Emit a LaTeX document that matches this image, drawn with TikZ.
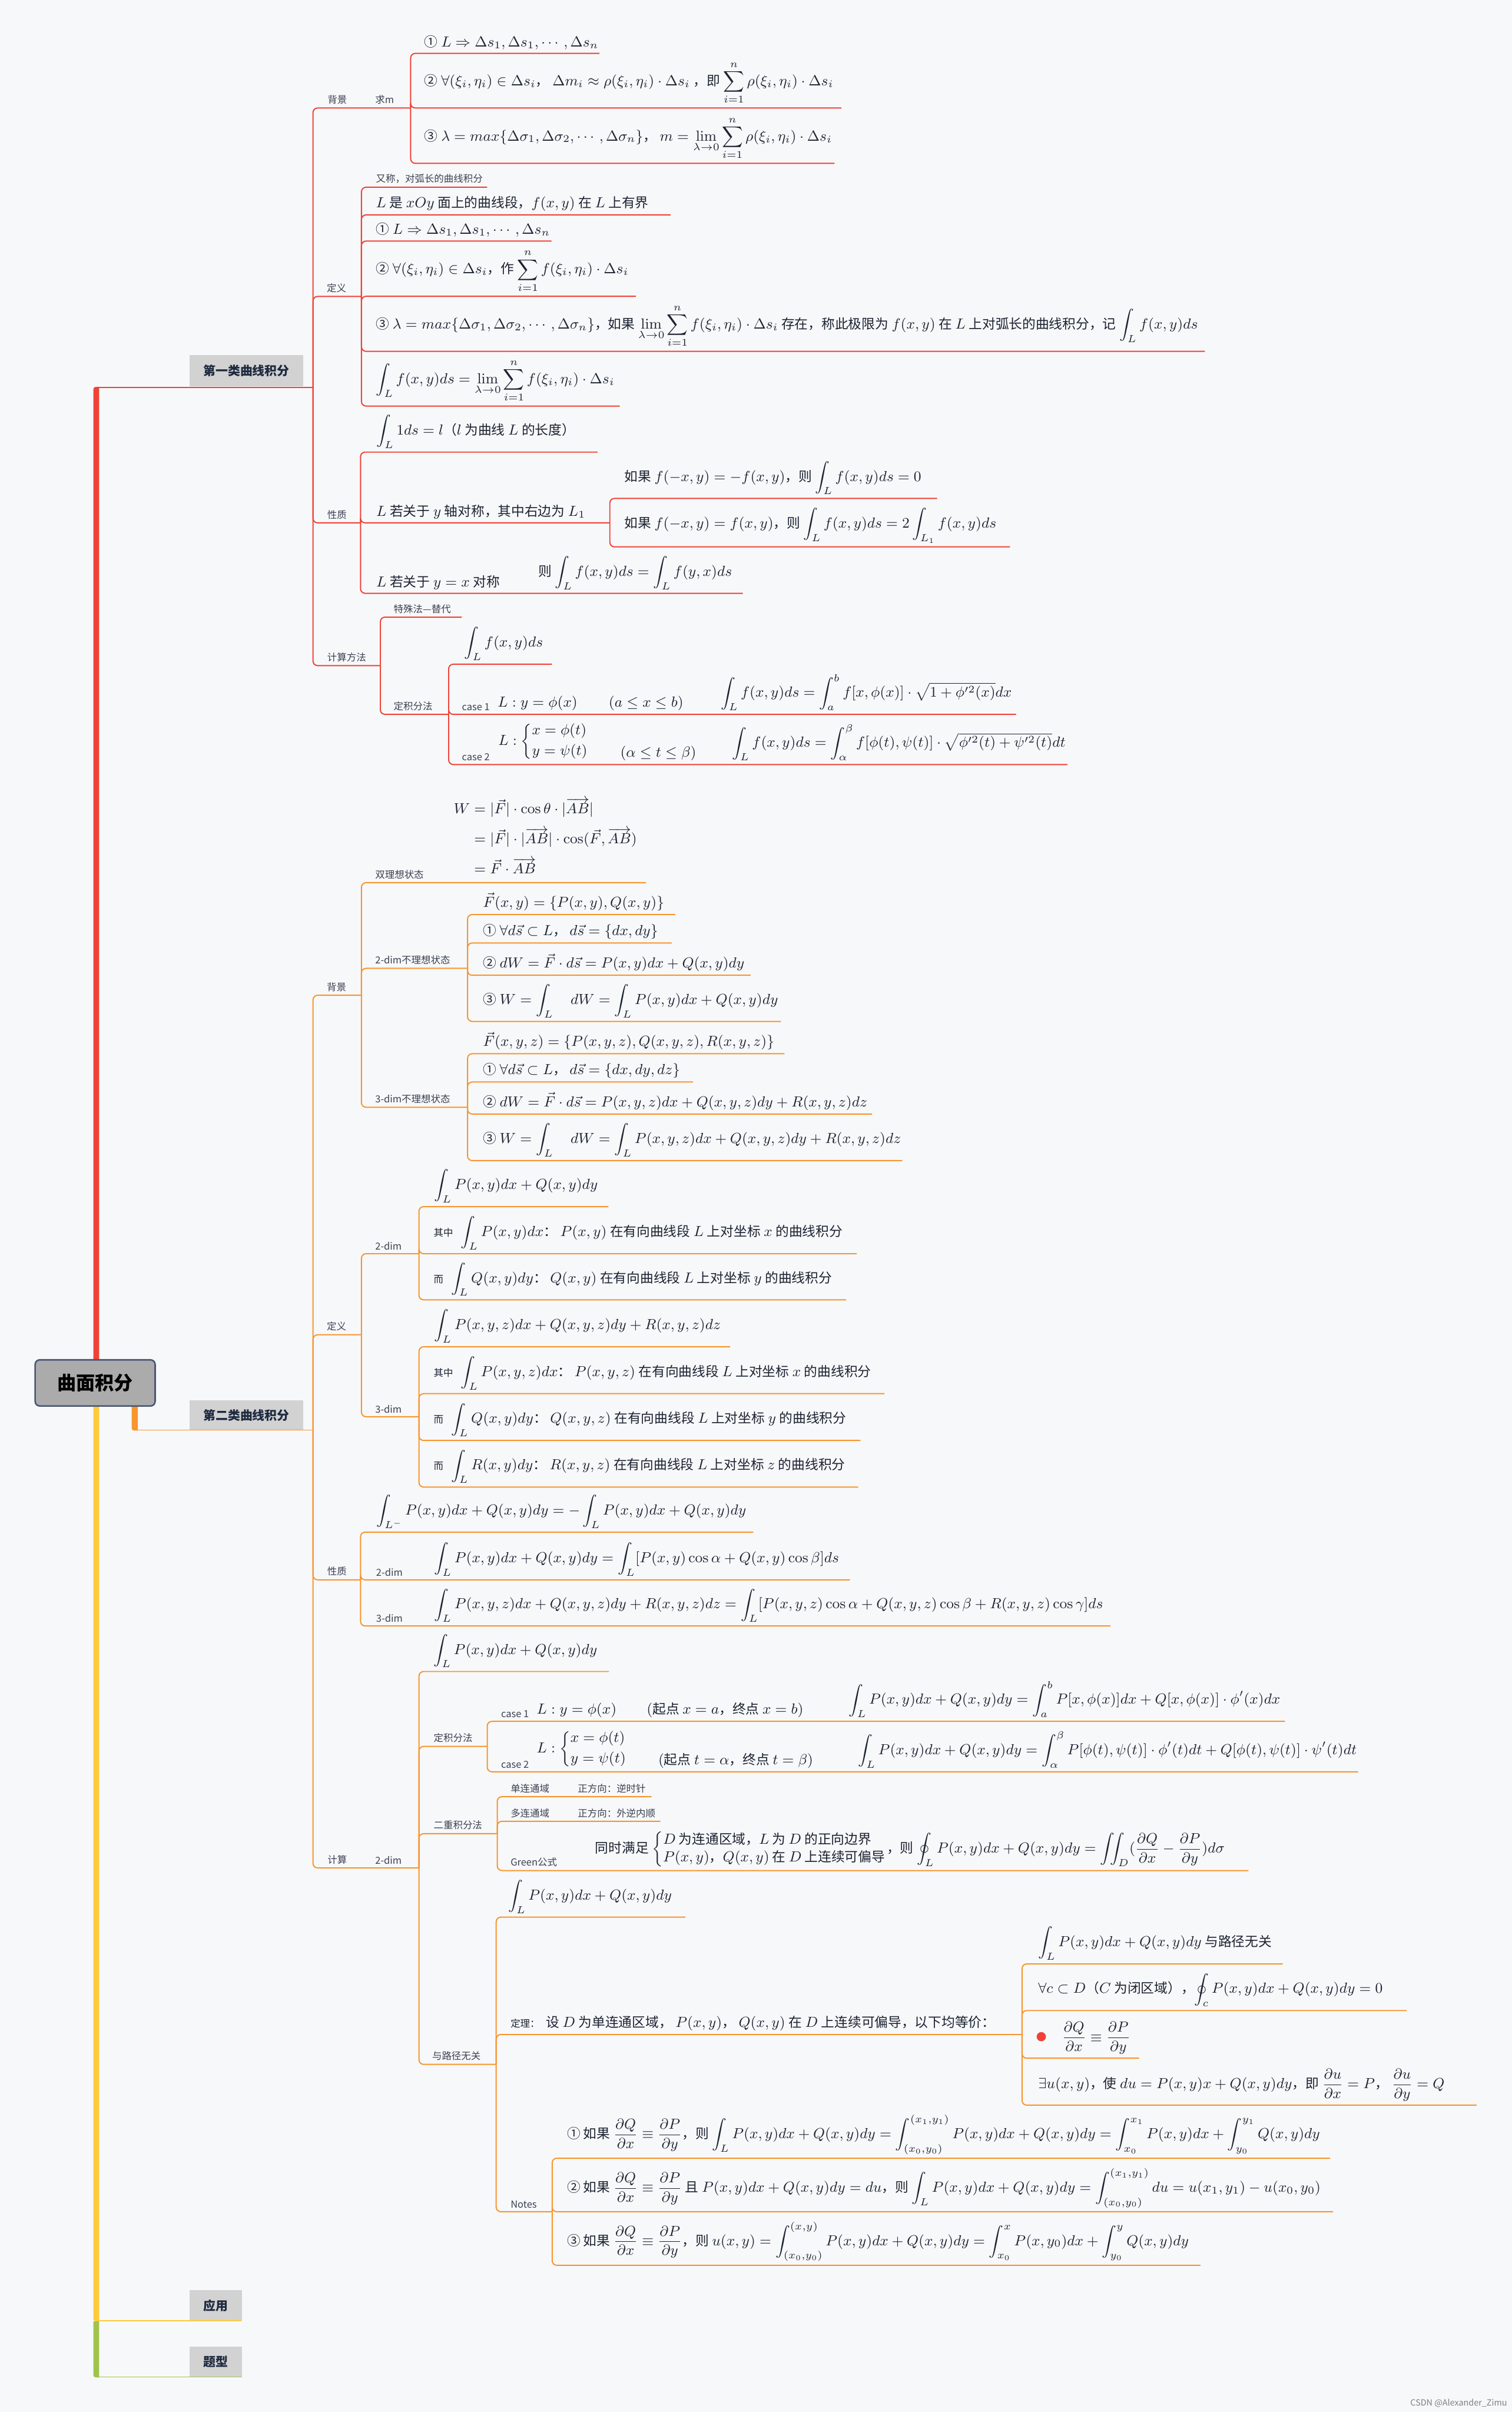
\RequirePackage{fix-cm}
\documentclass[tikz,border=0pt]{standalone}
\usepackage{amsmath,amssymb}
\usepackage[no-math]{fontspec}
\setmainfont{Noto Sans CJK SC}
\definecolor{bg}{HTML}{F7F8FA}
\definecolor{cr}{HTML}{F04237}
\definecolor{co}{HTML}{F7952E}
\definecolor{cy}{HTML}{FFCA3A}
\definecolor{cg}{HTML}{A0C34B}
\definecolor{ink}{HTML}{1C2331}
\definecolor{inkc}{HTML}{3B4150}
\definecolor{lbl}{HTML}{D2D2D2}
\definecolor{hubtxt}{HTML}{1E2A40}
\definecolor{rootf}{HTML}{ABABAB}
\definecolor{rootd}{HTML}{4A5775}
\newcommand\ZC[1]{{\fontsize{8.7}{10}\selectfont #1}}
\newcommand\ZS[1]{{\fontsize{6.3}{7.5}\selectfont #1}}
\newcommand\Nd[5][tx]{\node[#1] (#2) at (#3,#4-2.5) {#5};}
\begin{document}
\begin{tikzpicture}[x=1pt,y=-1pt,
  tx/.style={anchor=south west,inner sep=0pt,outer sep=0pt,text=ink,font=\fontsize{9.5}{11.4}\selectfont},
  sm/.style={tx,text=inkc,font=\fontsize{6.3}{7.5}\selectfont},
  hub/.style={anchor=south west,fill=lbl,inner sep=0pt,text=hubtxt,font=\fontsize{8}{9}\selectfont\bfseries},
  rl/.style={cr,line width=0.75pt,rounded corners=3pt},
  ol/.style={co,line width=0.75pt,rounded corners=3pt}]
\useasboundingbox (0,0) rectangle (983,1568);
\fill[bg] (0,0) rectangle (983,1568);

% ---------- trunk ----------
\fill[cr] (60.7,890) -- (60.7,255) .. controls (60.7,251.5) .. (64.2,251.5) -- (64.5,251.5) -- (64.5,890) -- cycle;
\fill[co] (85.6,905) -- (85.6,926.5) .. controls (85.6,930) .. (89.1,930) -- (89.6,930) -- (89.6,905) -- cycle;
\fill[cy] (60.7,905) -- (60.7,1505.5) .. controls (60.7,1509) .. (64.2,1509) -- (64.5,1509) -- (64.5,905) -- cycle;
\fill[cg] (60.7,1509) -- (60.7,1542) .. controls (60.7,1545.5) .. (64.2,1545.5) -- (64.5,1545.5) -- (64.5,1509) -- cycle;

\node[hub,minimum width=74pt,minimum height=20.5pt] (h1) at (123,251.5) {第一类曲线积分};
\node[hub,minimum width=74pt,minimum height=19.5pt] (h2) at (123,930) {第二类曲线积分};
\node[hub,minimum width=34pt,minimum height=20pt] (h3) at (123,1509) {应用};
\node[hub,minimum width=34pt,minimum height=20pt] (h4) at (123,1545.5) {题型};

\coordinate (A) at (64,251.8);  \coordinate (Aj) at (203.5,251.8);
\coordinate (B) at (89,929.7);  \coordinate (Bj) at (203.5,929.7);
\coordinate (C) at (64,1508.7); \coordinate (Cj) at (157,1508.7);
\coordinate (D) at (64,1545.2); \coordinate (Dj) at (157,1545.2);
\draw[cr,line width=0.6pt] (A) -- (Aj);
\draw[co,line width=0.6pt] (B) -- (Bj);
\draw[cy,line width=0.6pt] (C) -- (Cj);
\draw[cg,line width=0.6pt] (D) -- (Dj);

\node[draw=rootd,line width=1pt,fill=rootf,rounded corners=3pt,minimum width=78pt,minimum height=30pt,inner sep=0pt,text=black,font=\fontsize{12.3}{14}\selectfont\bfseries] (root) at (61.85,899) {曲面积分};

% ---------- section 1 coordinates ----------
\coordinate (a1) at (267,70.2);
\coordinate (a2) at (235,192.7);
\coordinate (a3) at (234.4,339.9);
\coordinate (a4) at (247.3,432.7);
\coordinate (a11) at (389.7,34.7);
\coordinate (a12) at (547,70.2);
\coordinate (a13) at (542.6,106.2);
\coordinate (a21) at (316.7,121.7);
\coordinate (a22) at (436,139.7);
\coordinate (a23) at (358.5,156.7);
\coordinate (a24) at (413.4,192.6);
\coordinate (a25) at (783.4,228.4);
\coordinate (a26) at (403,264);
\coordinate (a31) at (388.6,293.9);
\coordinate (a32) at (396.5,339.9);
\coordinate (a33) at (483,385.7);
\coordinate (a321) at (609.3,324);
\coordinate (a322) at (656.7,355.5);
\coordinate (a41) at (300.3,401.2);
\coordinate (a42) at (291.7,464.4);
\coordinate (a421) at (358.8,431.8);
\coordinate (a422) at (660.6,464.4);
\coordinate (a423) at (694,497);

\foreach \c in {a1,a2,a3,a4} \draw[rl] (Aj) |- (\c);
\foreach \c in {a11,a12,a13} \draw[rl] (a1) |- (\c);
\foreach \c in {a21,a22,a23,a24,a25,a26} \draw[rl] (a2) |- (\c);
\foreach \c in {a31,a32,a33} \draw[rl] (a3) |- (\c);
\foreach \c in {a321,a322} \draw[rl] (a32) |- (\c);
\foreach \c in {a41,a42} \draw[rl] (a4) |- (\c);
\foreach \c in {a421,a422,a423} \draw[rl] (a42) |- (\c);

% ---------- section 1 text ----------
\Nd[sm]{ta1}{213}{70.2}{背景}
\Nd[sm]{ta1m}{244}{70.2}{求m}
\Nd{ta11}{276}{34.7}{\ZC{①} $L\Rightarrow\Delta s_1,\Delta s_1,\cdots,\Delta s_n$}
\Nd{ta12}{276}{70.2}{\ZC{②} $\forall(\xi_i,\eta_i)\in\Delta s_i$\ZC{，} $\Delta m_i\approx\rho(\xi_i,\eta_i)\cdot\Delta s_i$ \ZC{，即} $\displaystyle\sum_{i=1}^{n}\rho(\xi_i,\eta_i)\cdot\Delta s_i$}
\Nd{ta13}{276}{106.2}{\ZC{③} $\lambda=max\{\Delta\sigma_1,\Delta\sigma_2,\cdots,\Delta\sigma_n\}$\ZC{，} $\displaystyle m=\lim_{\lambda\to0}\sum_{i=1}^{n}\rho(\xi_i,\eta_i)\cdot\Delta s_i$}

\Nd[sm]{ta2}{212.5}{192.7}{定义}
\Nd[sm]{ta21}{244.5}{121.7}{又称，对弧长的曲线积分}
\Nd{ta22}{244.5}{139.7}{$L$ \ZC{是} $xOy$ \ZC{面上的曲线段，}$f(x,y)$ \ZC{在} $L$ \ZC{上有界}}
\Nd{ta23}{244.5}{156.7}{\ZC{①} $L\Rightarrow\Delta s_1,\Delta s_1,\cdots,\Delta s_n$}
\Nd{ta24}{244.5}{192.6}{\ZC{②} $\forall(\xi_i,\eta_i)\in\Delta s_i$\ZC{，作} $\displaystyle\sum_{i=1}^{n}f(\xi_i,\eta_i)\cdot\Delta s_i$}
\Nd{ta25}{244.5}{228.4}{\ZC{③} $\lambda=max\{\Delta\sigma_1,\Delta\sigma_2,\cdots,\Delta\sigma_n\}$\ZC{，如果} $\displaystyle\lim_{\lambda\to0}\sum_{i=1}^{n}f(\xi_i,\eta_i)\cdot\Delta s_i$ \ZC{存在，称此极限为} $f(x,y)$ \ZC{在} $L$ \ZC{上对弧长的曲线积分，记} $\displaystyle\int_L f(x,y)ds$}
\Nd{ta26}{244.5}{264}{$\displaystyle\int_L f(x,y)ds=\lim_{\lambda\to0}\sum_{i=1}^{n}f(\xi_i,\eta_i)\cdot\Delta s_i$}

\Nd[sm]{ta3}{212.8}{339.9}{性质}
\Nd{ta31}{244.7}{293.9}{$\displaystyle\int_L 1ds=l$\ZC{（}$l$ \ZC{为曲线} $L$ \ZC{的长度）}}
\Nd{ta32}{244.7}{339.9}{$L$ \ZC{若关于} $y$ \ZC{轴对称，其中右边为} $L_1$}
\Nd{ta321}{406}{324}{\ZC{如果} $f(-x,y)=-f(x,y)$\ZC{，则} $\displaystyle\int_L f(x,y)ds=0$}
\Nd{ta322}{406}{355.5}{\ZC{如果} $f(-x,y)=f(x,y)$\ZC{，则} $\displaystyle\int_L f(x,y)ds=2\int_{L_1}f(x,y)ds$}
\Nd{ta33}{244.7}{385.7}{$L$ \ZC{若关于} $y=x$ \ZC{对称}}
\Nd{ta33b}{350}{385.7}{\ZC{则} $\displaystyle\int_L f(x,y)ds=\int_L f(y,x)ds$}

\Nd[sm]{ta4}{212.8}{432.7}{计算方法}
\Nd[sm]{ta41}{256}{401.2}{特殊法—替代}
\Nd[sm]{ta42}{256}{464.4}{定积分法}
\Nd{ta421}{302}{431.8}{$\displaystyle\int_L f(x,y)ds$}
\Nd[sm]{ta422a}{300.4}{464.4}{case 1}
\Nd{ta422b}{323.6}{464.4}{$L:y=\phi(x)$}
\Nd{ta422c}{395.8}{464.4}{$(a\le x\le b)$}
\Nd{ta422d}{468.6}{464.4}{$\displaystyle\int_L f(x,y)ds=\int_a^b f[x,\phi(x)]\cdot\sqrt{1+\phi'^2(x)}dx$}
\Nd[sm]{ta423a}{300.4}{497}{case 2}
\Nd{ta423b}{324}{497}{$L:\left\{\begin{array}{@{}l@{}}x=\phi(t)\\[2pt]y=\psi(t)\end{array}\right.$}
\Nd{ta423c}{403.3}{497}{$(\alpha\le t\le\beta)$}
\Nd{ta423d}{476}{497}{$\displaystyle\int_L f(x,y)ds=\int_\alpha^\beta f[\phi(t),\psi(t)]\cdot\sqrt{\phi'^2(t)+\psi'^2(t)}dt$}

% ---------- section 2 coordinates ----------
\coordinate (b1) at (235,647);
\coordinate (b2) at (235,867.7);
\coordinate (b3) at (234.4,1027);
\coordinate (b4) at (272.4,1214.3);
\coordinate (b11) at (420,573.8);
\coordinate (b12) at (304,629.5);
\coordinate (b13) at (304,719.8);
\coordinate (b121) at (439,594.5);
\coordinate (b122) at (436.7,613);
\coordinate (b123) at (488,634);
\coordinate (b124) at (507.7,664);
\coordinate (b131) at (510,685);
\coordinate (b132) at (450.5,703.4);
\coordinate (b133) at (567,724.2);
\coordinate (b134) at (586.6,754.5);
\coordinate (b21) at (272.4,815);
\coordinate (b22) at (272.4,921);
\coordinate (b211) at (395.6,784.4);
\coordinate (b212) at (557,815);
\coordinate (b213) at (550,845);
\coordinate (b221) at (474.7,875.5);
\coordinate (b222) at (575,906);
\coordinate (b223) at (559.4,936.4);
\coordinate (b224) at (558,966.7);
\coordinate (b31) at (489.8,996);
\coordinate (b32) at (552.6,1027);
\coordinate (b33) at (722,1057);
\coordinate (b41) at (395.9,1086.6);
\coordinate (b42) at (316.8,1135.3);
\coordinate (b43) at (323.3,1192);
\coordinate (b44) at (322.6,1342);
\coordinate (b421) at (835.4,1119);
\coordinate (b422) at (883,1151.8);
\coordinate (b431) at (423.6,1168);
\coordinate (b432) at (429.4,1184);
\coordinate (b433) at (811.7,1216);
\coordinate (b441) at (445.6,1246.3);
\coordinate (b442) at (664.5,1322.6);
\coordinate (b443) at (359,1437.8);
\coordinate (b4421) at (834,1276.7);
\coordinate (b4422) at (914.5,1307);
\coordinate (b4423) at (740.6,1338);
\coordinate (b4424) at (960,1368.5);
\coordinate (b4431) at (864.8,1403);
\coordinate (b4432) at (866.7,1437.8);
\coordinate (b4433) at (780.5,1472.6);

\foreach \c in {b1,b2,b3,b4} \draw[ol] (Bj) |- (\c);
\foreach \c in {b11,b12,b13} \draw[ol] (b1) |- (\c);
\foreach \c in {b121,b122,b123,b124} \draw[ol] (b12) |- (\c);
\foreach \c in {b131,b132,b133,b134} \draw[ol] (b13) |- (\c);
\foreach \c in {b21,b22} \draw[ol] (b2) |- (\c);
\foreach \c in {b211,b212,b213} \draw[ol] (b21) |- (\c);
\foreach \c in {b221,b222,b223,b224} \draw[ol] (b22) |- (\c);
\foreach \c in {b31,b32,b33} \draw[ol] (b3) |- (\c);
\foreach \c in {b41,b42,b43,b44} \draw[ol] (b4) |- (\c);
\foreach \c in {b421,b422} \draw[ol] (b42) |- (\c);
\foreach \c in {b431,b432,b433} \draw[ol] (b43) |- (\c);
\foreach \c in {b441,b442,b443} \draw[ol] (b44) |- (\c);
\foreach \c in {b4421,b4422,b4423,b4424} \draw[ol] (b442) |- (\c);
\foreach \c in {b4431,b4432,b4433} \draw[ol] (b443) |- (\c);

% ---------- section 2 text ----------
\Nd[sm]{tb1}{212.5}{647}{背景}
\Nd[sm]{tb11}{244}{573.8}{双理想状态}
\Nd{tb11f}{295}{573.8}{$\begin{aligned}W&=|\vec F|\cdot\cos\theta\cdot|\overrightarrow{AB}|\\[2pt]&=|\vec F|\cdot|\overrightarrow{AB}|\cdot\cos(\vec F,\overrightarrow{AB})\\[2pt]&=\vec F\cdot\overrightarrow{AB}\end{aligned}$}
\Nd[sm]{tb12}{244}{629.5}{2-dim不理想状态}
\Nd{tb121}{314}{594.5}{$\vec F(x,y)=\{P(x,y),Q(x,y)\}$}
\Nd{tb122}{314}{613}{\ZC{①} $\forall d\vec s\subset L$\ZC{，} $d\vec s=\{dx,dy\}$}
\Nd{tb123}{314}{634}{\ZC{②} $dW=\vec F\cdot d\vec s=P(x,y)dx+Q(x,y)dy$}
\Nd{tb124}{314}{664}{\ZC{③} $\displaystyle W=\int_L\quad dW=\int_L P(x,y)dx+Q(x,y)dy$}
\Nd[sm]{tb13}{244}{719.8}{3-dim不理想状态}
\Nd{tb131}{314}{685}{$\vec F(x,y,z)=\{P(x,y,z),Q(x,y,z),R(x,y,z)\}$}
\Nd{tb132}{314}{703.4}{\ZC{①} $\forall d\vec s\subset L$\ZC{，} $d\vec s=\{dx,dy,dz\}$}
\Nd{tb133}{314}{724.2}{\ZC{②} $dW=\vec F\cdot d\vec s=P(x,y,z)dx+Q(x,y,z)dy+R(x,y,z)dz$}
\Nd{tb134}{314}{754.5}{\ZC{③} $\displaystyle W=\int_L\quad dW=\int_L P(x,y,z)dx+Q(x,y,z)dy+R(x,y,z)dz$}

\Nd[sm]{tb2}{212.5}{867.7}{定义}
\Nd[sm]{tb21}{244}{815}{2-dim}
\Nd{tb211}{282.4}{784.4}{$\displaystyle\int_L P(x,y)dx+Q(x,y)dy$}
\Nd{tb212}{282}{815}{\ZS{其中}\hspace{5pt}$\displaystyle\int_L P(x,y)dx$\ZC{：} $P(x,y)$ \ZC{在有向曲线段} $L$ \ZC{上对坐标} $x$ \ZC{的曲线积分}}
\Nd{tb213}{282}{845}{\ZS{而}\hspace{5pt}$\displaystyle\int_L Q(x,y)dy$\ZC{：} $Q(x,y)$ \ZC{在有向曲线段} $L$ \ZC{上对坐标} $y$ \ZC{的曲线积分}}
\Nd[sm]{tb22}{244}{921}{3-dim}
\Nd{tb221}{282.4}{875.5}{$\displaystyle\int_L P(x,y,z)dx+Q(x,y,z)dy+R(x,y,z)dz$}
\Nd{tb222}{282}{906}{\ZS{其中}\hspace{5pt}$\displaystyle\int_L P(x,y,z)dx$\ZC{：} $P(x,y,z)$ \ZC{在有向曲线段} $L$ \ZC{上对坐标} $x$ \ZC{的曲线积分}}
\Nd{tb223}{282}{936.4}{\ZS{而}\hspace{5pt}$\displaystyle\int_L Q(x,y)dy$\ZC{：} $Q(x,y,z)$ \ZC{在有向曲线段} $L$ \ZC{上对坐标} $y$ \ZC{的曲线积分}}
\Nd{tb224}{282}{966.7}{\ZS{而}\hspace{5pt}$\displaystyle\int_L R(x,y)dy$\ZC{：} $R(x,y,z)$ \ZC{在有向曲线段} $L$ \ZC{上对坐标} $z$ \ZC{的曲线积分}}

\Nd[sm]{tb3}{212.8}{1027}{性质}
\Nd{tb31}{244.7}{996}{$\displaystyle\int_{L^-}P(x,y)dx+Q(x,y)dy=-\int_L P(x,y)dx+Q(x,y)dy$}
\Nd[sm]{tb32a}{244.6}{1027}{2-dim}
\Nd{tb32b}{282.4}{1027}{$\displaystyle\int_L P(x,y)dx+Q(x,y)dy=\int_L[P(x,y)\cos\alpha+Q(x,y)\cos\beta]ds$}
\Nd[sm]{tb33a}{244.6}{1057}{3-dim}
\Nd{tb33b}{282.4}{1057}{$\displaystyle\int_L P(x,y,z)dx+Q(x,y,z)dy+R(x,y,z)dz=\int_L[P(x,y,z)\cos\alpha+Q(x,y,z)\cos\beta+R(x,y,z)\cos\gamma]ds$}

\Nd[sm]{tb4}{213}{1214.3}{计算}
\Nd[sm]{tb4d}{244}{1214.3}{2-dim}
\Nd{tb41}{282}{1086.6}{$\displaystyle\int_L P(x,y)dx+Q(x,y)dy$}
\Nd[sm]{tb42}{282}{1135.3}{定积分法}
\Nd[sm]{tb421a}{325.8}{1119}{case 1}
\Nd{tb421b}{349}{1119}{$L:y=\phi(x)$}
\Nd{tb421c}{420.5}{1119}{$($\ZC{起点} $x=a$\ZC{，终点} $x=b)$}
\Nd{tb421d}{552}{1119}{$\displaystyle\int_L P(x,y)dx+Q(x,y)dy=\int_a^b P[x,\phi(x)]dx+Q[x,\phi(x)]\cdot\phi'(x)dx$}
\Nd[sm]{tb422a}{325.8}{1151.8}{case 2}
\Nd{tb422b}{349}{1151.8}{$L:\left\{\begin{array}{@{}l@{}}x=\phi(t)\\[2pt]y=\psi(t)\end{array}\right.$}
\Nd{tb422c}{428}{1151.8}{$($\ZC{起点} $t=\alpha$\ZC{，终点} $t=\beta)$}
\Nd{tb422d}{558}{1151.8}{$\displaystyle\int_L P(x,y)dx+Q(x,y)dy=\int_\alpha^\beta P[\phi(t),\psi(t)]\cdot\phi'(t)dt+Q[\phi(t),\psi(t)]\cdot\psi'(t)dt$}
\Nd[sm]{tb43}{282}{1192}{二重积分法}
\Nd[sm]{tb431a}{332}{1168}{单连通域}
\Nd[sm]{tb431b}{375.7}{1168}{正方向：逆时针}
\Nd[sm]{tb432a}{332}{1184}{多连通域}
\Nd[sm]{tb432b}{375.7}{1184}{正方向：外逆内顺}
\Nd[sm]{tb433a}{332}{1216}{Green公式}
\Nd{tb433b}{387}{1216}{\ZC{同时满足} $\left\{\begin{array}{@{}l@{}}D\text{\ZC{ 为连通区域，}}L\text{\ZC{ 为 }}D\text{\ZC{ 的正向边界}}\\ P(x,y)\text{\ZC{，}}Q(x,y)\text{\ZC{ 在 }}D\text{\ZC{ 上连续可偏导}}\end{array}\right.$\ZC{，则} $\displaystyle\oint_L P(x,y)dx+Q(x,y)dy=\iint_D(\frac{\partial Q}{\partial x}-\frac{\partial P}{\partial y})d\sigma$}
\Nd[sm]{tb44}{281}{1342}{与路径无关}
\Nd{tb441}{330.5}{1246.3}{$\displaystyle\int_L P(x,y)dx+Q(x,y)dy$}
\Nd{tb442}{332}{1322.6}{\ZS{定理：}\hspace{4pt}\ZC{设} $D$ \ZC{为单连通区域，} $P(x,y)$\ZC{，} $Q(x,y)$ \ZC{在} $D$ \ZC{上连续可偏导，以下均等价：}}
\Nd{tb4421}{675}{1276.7}{$\displaystyle\int_L P(x,y)dx+Q(x,y)dy$ \ZC{与路径无关}}
\Nd{tb4422}{675}{1307}{$\forall c\subset D$\ZC{（}$C$ \ZC{为闭区域），}$\displaystyle\oint_c P(x,y)dx+Q(x,y)dy=0$}
\node[circle,fill=cr,minimum size=6pt,inner sep=0pt] (dot) at (677,1324) {};
\Nd{tb4423}{690.4}{1338}{$\displaystyle\frac{\partial Q}{\partial x}\equiv\frac{\partial P}{\partial y}$}
\Nd{tb4424}{675}{1368.5}{$\exists u(x,y)$\ZC{，使} $du=P(x,y)x+Q(x,y)dy$\ZC{，即} $\displaystyle\frac{\partial u}{\partial x}=P$\ZC{，} $\displaystyle\frac{\partial u}{\partial y}=Q$}
\Nd[sm]{tb443}{332}{1437.8}{Notes}
\Nd{tb4431}{368.7}{1403}{\ZC{① 如果} $\displaystyle\frac{\partial Q}{\partial x}\equiv\frac{\partial P}{\partial y}$\ZC{，则} $\displaystyle\int_L P(x,y)dx+Q(x,y)dy=\int_{(x_0,y_0)}^{(x_1,y_1)}P(x,y)dx+Q(x,y)dy=\int_{x_0}^{x_1}P(x,y)dx+\int_{y_0}^{y_1}Q(x,y)dy$}
\Nd{tb4432}{368.7}{1437.8}{\ZC{② 如果} $\displaystyle\frac{\partial Q}{\partial x}\equiv\frac{\partial P}{\partial y}$ \ZC{且} $P(x,y)dx+Q(x,y)dy=du$\ZC{，则} $\displaystyle\int_L P(x,y)dx+Q(x,y)dy=\int_{(x_0,y_0)}^{(x_1,y_1)}du=u(x_1,y_1)-u(x_0,y_0)$}
\Nd{tb4433}{368.7}{1472.6}{\ZC{③ 如果} $\displaystyle\frac{\partial Q}{\partial x}\equiv\frac{\partial P}{\partial y}$\ZC{，则} $\displaystyle u(x,y)=\int_{(x_0,y_0)}^{(x,y)}P(x,y)dx+Q(x,y)dy=\int_{x_0}^{x}P(x,y_0)dx+\int_{y_0}^{y}Q(x,y)dy$}

\node[anchor=south east,inner sep=0pt,text=gray,font=\fontsize{5.5}{6}\selectfont] (wm) at (980,1565) {CSDN @Alexander\_Zimu};
\end{tikzpicture}
\end{document}
